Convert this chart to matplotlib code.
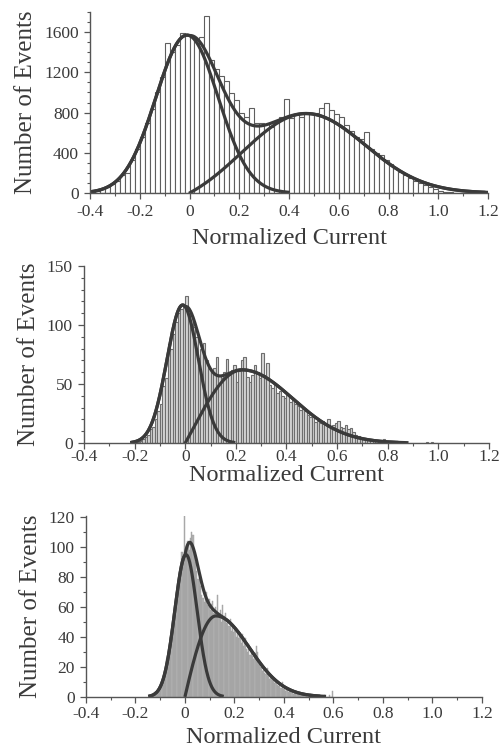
import numpy as np
import matplotlib
matplotlib.use("Agg")
import matplotlib.pyplot as plt
from matplotlib.ticker import MultipleLocator

plt.rcParams['font.family'] = ['Liberation Serif', 'DejaVu Serif']

# ---- data ----
# panel A: bins of 0.02 starting at -0.40
hist1_start, hist1_width = -0.40, 0.02
hist1 = [15, 22, 35, 55, 85, 120, 175, 200, 330, 440,
         560, 700, 840, 1000, 1150, 1490, 1400, 1470, 1590, 1580,
         1560, 1520, 1550, 1760, 1320, 1230, 1160, 1110, 990, 920,
         800, 760, 850, 700, 700, 690, 660, 720, 760, 935,
         750, 790, 760, 790, 800, 800, 850, 900, 830, 790,
         760, 680, 620, 560, 540, 610, 440, 400, 380, 330,
         290, 250, 210, 180, 150, 120, 100, 80, 60, 40,
         25, 15, 8, 5, 3]

# panel B: bins of 0.01 starting at -0.20
hist2_start, hist2_width = -0.20, 0.01
hist2 = [0, 1, 2, 3, 5, 7, 12, 14, 20, 27,
         33, 48, 55, 84, 80, 92, 103, 110, 114, 118,
         125, 112, 108, 98, 90, 72, 80, 85, 70, 63,
         62, 64, 73, 58, 55, 60, 71, 58, 62, 66,
         52, 61, 70, 73, 56, 52, 58, 66, 60, 55,
         76, 58, 68, 49, 47, 50, 42, 44, 40, 38,
         41, 35, 38, 33, 31, 28, 29, 27, 24, 22,
         24, 18, 19, 17, 19, 16, 20, 14, 15, 17,
         19, 14, 13, 15, 12, 13, 9, 7, 6, 5,
         4, 4, 3, 3, 2, 2, 2, 2, 3, 1,
         0, 1, 0, 1, 0, 0, 0, 0, 0, 0,
         0, 0, 0, 0, 0, 1, 0, 1, 0, 0]

# panel C: bins of 0.005 starting at -0.13
hist3_start, hist3_width = -0.13, 0.005
hist3 = [2, 3, 1, 4, 3, 6, 5, 9, 11, 14,
         17, 25, 26, 30, 40, 41, 50, 53, 63, 70,
         72, 80, 86, 97, 93, 121, 99, 101, 104, 98,
         106, 110, 108, 96, 90, 84, 79, 80, 74, 68,
         66, 63, 68, 70, 61, 65, 58, 62, 64, 56,
         60, 53, 68, 55, 58, 50, 61, 54, 56, 49,
         52, 47, 52, 44, 48, 43, 45, 40, 44, 39,
         41, 36, 42, 34, 39, 32, 30, 35, 28, 30,
         27, 25, 29, 34, 30, 22, 21, 20, 17, 18,
         16, 15, 19, 14, 12, 13, 11, 12, 9, 10,
         8, 7, 8, 6, 10, 5, 6, 4, 5, 3,
         4, 3, 4, 2, 3, 2, 3, 1, 2, 2,
         1, 2, 1, 2, 1, 0, 1, 2, 0, 1,
         1, 0, 1, 0, 0, 1, 0, 0, 1, 0,
         0, 0, 1, 0, 0, 4]

# fitted components: [amplitude, centre, sigma] and [amplitude, centre, sigma_left, sigma_right]
peak1 = [[1570, -0.01, 0.125], [790, 0.47, 0.26, 0.235]]
peak2 = [[117, -0.01, 0.062], [62, 0.225, 0.20, 0.20]]
peak3 = [[95, 0.004, 0.045], [54, 0.125, 0.15, 0.135]]

yticks1 = [0, 400, 800, 1200, 1600]
yticks2 = [0, 50, 100, 150]
yticks3 = [0, 20, 40, 60, 80, 100, 120]
xticks = [-0.4, -0.2, 0, 0.2, 0.4, 0.6, 0.8, 1.0, 1.2]
xticklabels = ['-0.4', '-0.2', '0', '0.2', '0.4', '0.6', '0.8', '1.0', '1.2']


def gauss(x, a, m, s):
    return a * np.exp(-(x - m) ** 2 / (2 * s ** 2))


def second(x, a, m, sl, sr):
    e0 = np.exp(-m ** 2 / (2 * sl ** 2))
    left = (np.exp(-(x - m) ** 2 / (2 * sl ** 2)) - e0) / (1 - e0)
    right = np.exp(-(x - m) ** 2 / (2 * sr ** 2))
    y = np.where(x < m, left, right)
    return a * np.clip(y, 0, None) * (x >= 0)


ink = '#3a3a3a'
fig = plt.figure(figsize=(4.99, 7.49), dpi=100)

# rect, hist, fit, ymax, yticks, minor step, bar face, bar edge, tick pad, xlabel pad
panels = [
    ([0.1804, 0.7423, 0.7976, 0.2417], hist1_start, hist1_width, hist1, peak1,
     1800, yticks1, 100, 'white', '#5e5e5e', 3.5, 6),
    ([0.1683, 0.4085, 0.8116, 0.2363], hist2_start, hist2_width, hist2, peak2,
     150, yticks2, 10, '#d6d6d6', '#6e6e6e', 0, 0),
    ([0.1723, 0.0698, 0.7936, 0.2417], hist3_start, hist3_width, hist3, peak3,
     121, yticks3, 10, '#b2b2b2', '#9c9c9c', 2, 4),
]

for (rect, start, width, counts, (g1, g2), ytop, yt, yminor,
     face, edge, xpad, xlpad) in panels:
    ax = fig.add_axes(rect)
    edges = start + width * np.arange(len(counts))
    ax.bar(edges, counts, width=width, align='edge', color=face,
           edgecolor=edge, linewidth=0.8 if width > 0.006 else 0.3)

    x = np.linspace(-0.4, 1.2, 1600)
    c1 = gauss(x, *g1)
    c2 = second(x, *g2)
    tot = c1 + c2
    thr1 = 0.005 * g1[0]
    thr2 = 0.005 * g2[0]
    ax.plot(x, np.where(c1 > thr1, c1, np.nan), color=ink, lw=2.3)
    ax.plot(x, np.where(c2 > thr2, c2, np.nan), color=ink, lw=2.3)
    ax.plot(x, np.where(tot > thr1, tot, np.nan), color=ink, lw=2.3)

    ax.set_xlim(-0.4, 1.2)
    ax.set_ylim(0, ytop)
    ax.set_xticks(xticks)
    ax.set_xticklabels(xticklabels)
    ax.xaxis.set_minor_locator(MultipleLocator(0.1))
    ax.set_yticks(yt)
    ax.yaxis.set_minor_locator(MultipleLocator(yminor))
    for s in ['top', 'right']:
        ax.spines[s].set_visible(False)
    for s in ['left', 'bottom']:
        ax.spines[s].set_color('#555555')
        ax.spines[s].set_linewidth(1.0)
    ax.tick_params(which='major', direction='out', length=4.5, width=0.9,
                   color='#555555', labelsize=12.5, labelcolor=ink)
    ax.tick_params(axis='x', which='major', pad=xpad)
    ax.tick_params(axis='y', which='major', pad=3.5)
    ax.tick_params(which='minor', direction='out', length=2.5, width=0.8,
                   color='#555555')
    ax.set_xlabel('Normalized Current', fontsize=17.5, color=ink, labelpad=xlpad)
    ax.set_ylabel('Number of Events', fontsize=18, color=ink, labelpad=5)

fig.savefig('out.png', dpi=100)
